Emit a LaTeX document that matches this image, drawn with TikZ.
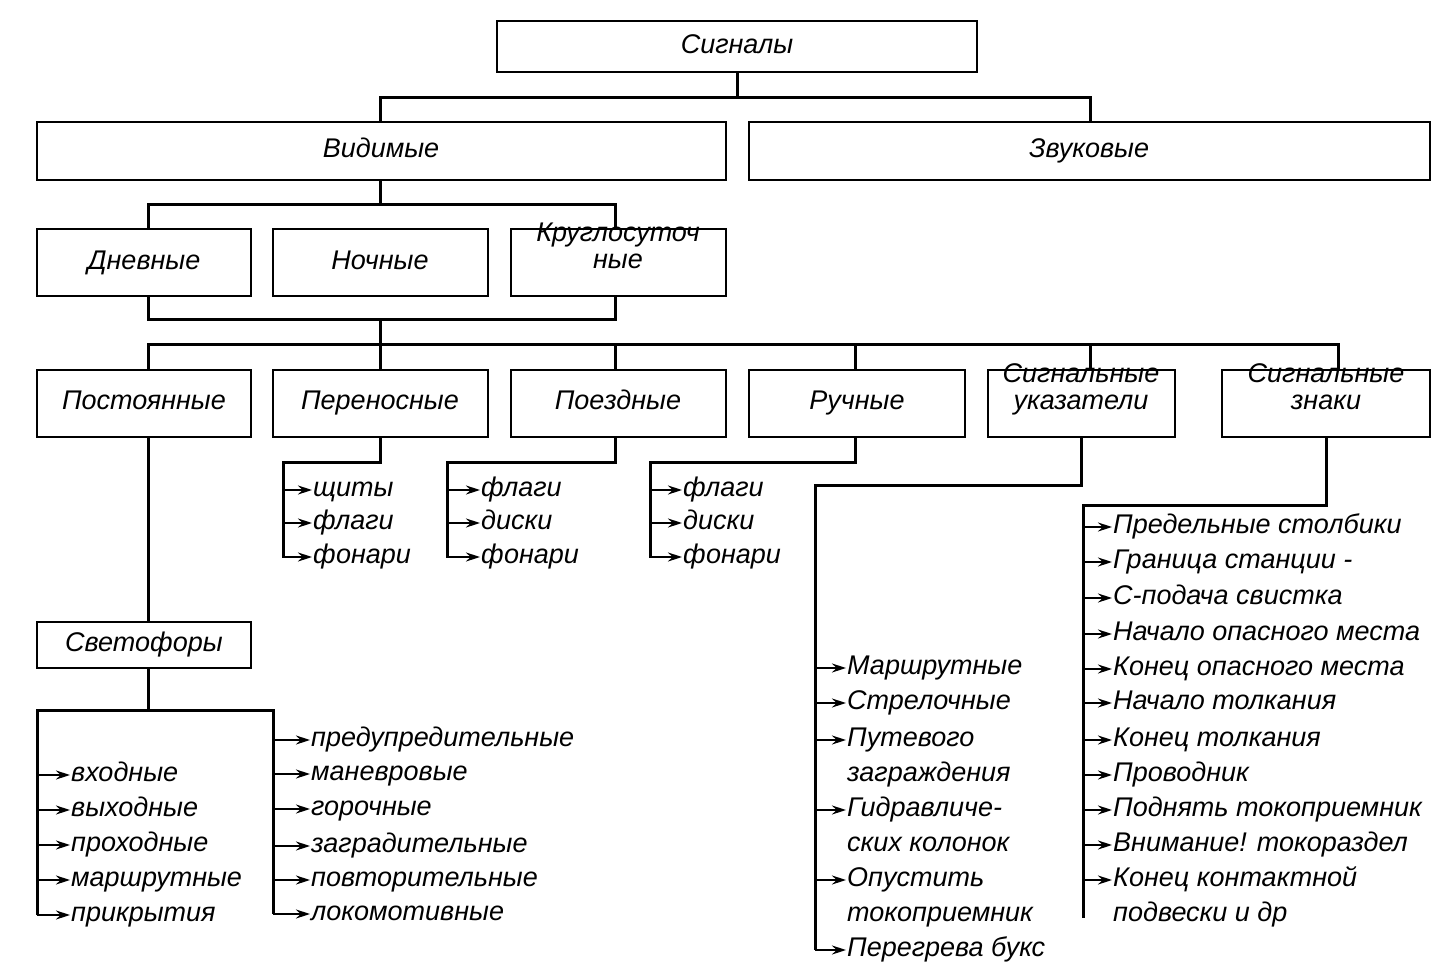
\documentclass[tikz,border=0pt]{standalone}
\usepackage{fontspec}
\setmainfont{Liberation Sans}
\usetikzlibrary{arrows.meta}

\tikzset{
    sigbox/.style={draw, line width=2pt, minimum height=#1, inner sep=2pt, align=center,
        text height=19pt, text depth=6pt},
    sigbox/.default=58pt,
    bus/.style={line width=3pt},
    item/.style={anchor=west, inner sep=1pt, text height=19pt, text depth=6pt},
    tick/.style={line width=1.5pt, -{Stealth[length=14pt,width=9pt]}}
}

\begin{document}
\begin{tikzpicture}[x=1pt, y=-1pt, font=\fontsize{27}{27}\selectfont\itshape]
    \useasboundingbox (0,0) rectangle (1446,976);

    % boxes
    \node[sigbox=51pt, minimum width=480pt] (sig) at (737,47) {Сигналы};
    \node[sigbox, minimum width=689pt] (vid) at (381,151) {Видимые};
    \node[sigbox, minimum width=681pt] (zv) at (1089,151) {Звуковые};

    \node[sigbox=67pt, minimum width=214pt] (dn) at (144,263) {Дневные};
    \node[sigbox=67pt, minimum width=215pt] (no) at (380,263) {Ночные};
    \node[sigbox=67pt, minimum width=215pt, text height=16pt, text depth=4pt] (kr) at (618,263) {Круглосуточ\\ные};

    \node[sigbox=67pt, minimum width=214pt] (pst) at (144,403) {Постоянные};
    \node[sigbox=67pt, minimum width=215pt] (per) at (380,403) {Переносные};
    \node[sigbox=67pt, minimum width=215pt] (poe) at (618,403) {Поездные};
    \node[sigbox=67pt, minimum width=216pt] (ruc) at (857,403) {Ручные};
    \node[sigbox=67pt, minimum width=187pt, text height=16pt, text depth=4pt] (uk) at (1081,403) {Сигнальные\\указатели};
    \node[sigbox=67pt, minimum width=208pt, text height=16pt, text depth=4pt] (zn) at (1326,403) {Сигнальные\\знаки};

    \node[sigbox=46pt, minimum width=214pt] (svet) at (144,645) {Светофоры};

    % trunk lines
    \draw[bus] (sig.south) -- (737,98) coordinate (t1);
    \draw[bus] (380,122) |- (t1) -| (1090,122);
    \draw[bus] (380,180) -- (380,205);
    \draw[bus] (148,230) |- (615,205) -- (615,230);
    \draw[bus] (148,297) |- (615,320) -- (615,297);
    \draw[bus] (380,320) -- (380,345);
    \draw[bus] (148,370) |- (1338,345) -- (1338,370);
    \foreach \x in {380,615,855,1090}
        \draw[bus] (\x,345) -- (\x,370);

    % portable, train, hand
    \draw[bus] (380,437) |- (283,462) -- (283,558);
    \draw[bus] (615,437) |- (447,462) -- (447,558);
    \draw[bus] (855,437) |- (650,462) -- (650,558);
    \foreach \y/\t [count=\i] in {490/щиты, 523/флаги, 557/фонари} {
        \node[item] (pr\i) at (312,\y) {\t};
        \draw[tick] (283,\y) -- (pr\i.west);
    }
    \foreach \y/\t [count=\i] in {490/флаги, 523/диски, 557/фонари} {
        \node[item] (pz\i) at (480,\y) {\t};
        \draw[tick] (447,\y) -- (pz\i.west);
        \node[item] (ru\i) at (682,\y) {\t};
        \draw[tick] (650,\y) -- (ru\i.west);
    }

    % signals
    \draw[bus] (148,437) -- (148,622);
    \draw[bus] (148,668) -- (148,710);
    \draw[bus] (37,915) -- (37,710) -- (273,710) -- (273,914);
    \foreach \y/\t [count=\i] in {775/входные, 810/выходные, 845/проходные, 880/маршрутные, 915/прикрытия} {
        \node[item] (sl\i) at (70,\y) {\t};
        \draw[tick] (37,\y) -- (sl\i.west);
    }
    \foreach \y/\t [count=\i] in {740/предупредительные, 774/маневровые, 809/горочные, 846/заградительные, 880/повторительные, 914/локомотивные} {
        \node[item] (sr\i) at (310,\y) {\t};
        \draw[tick] (273,\y) -- (sr\i.west);
    }

    % indicators
    \draw[bus] (uk.south) |- (815,485) -- (815,950);
    \foreach \y/\t [count=\i] in {668/Маршрутные, 703/Стрелочные, 740/Путевого, 810/Гидравличе-, 880/Опустить, 950/Перегрева букс} {
        \node[item] (ui\i) at (846,\y) {\t};
        \draw[tick] (815,\y) -- (ui\i.west);
    }
    \foreach \y/\t in {775/заграждения, 845/ских колонок, 915/токоприемник}
        \node[item] at (846,\y) {\t};

    % signs
    \draw[bus] (zn.south) |- (1083,505) -- (1083,918);
    \foreach \y/\t [count=\i] in {527/Предельные столбики, 562/Граница станции -, 598/С-подача свистка,
        634/Начало опасного места, 669/Конец опасного места, 703/Начало толкания,
        740/Конец толкания, 775/Проводник, 810/Поднять токоприемник,
        845/Внимание! токораздел, 880/Конец контактной} {
        \node[item] (zi\i) at (1112,\y) {\t};
        \draw[tick] (1083,\y) -- (zi\i.west);
    }
    \node[item] (zi12) at (1112,915) {подвески и др};
\end{tikzpicture}
\end{document}
